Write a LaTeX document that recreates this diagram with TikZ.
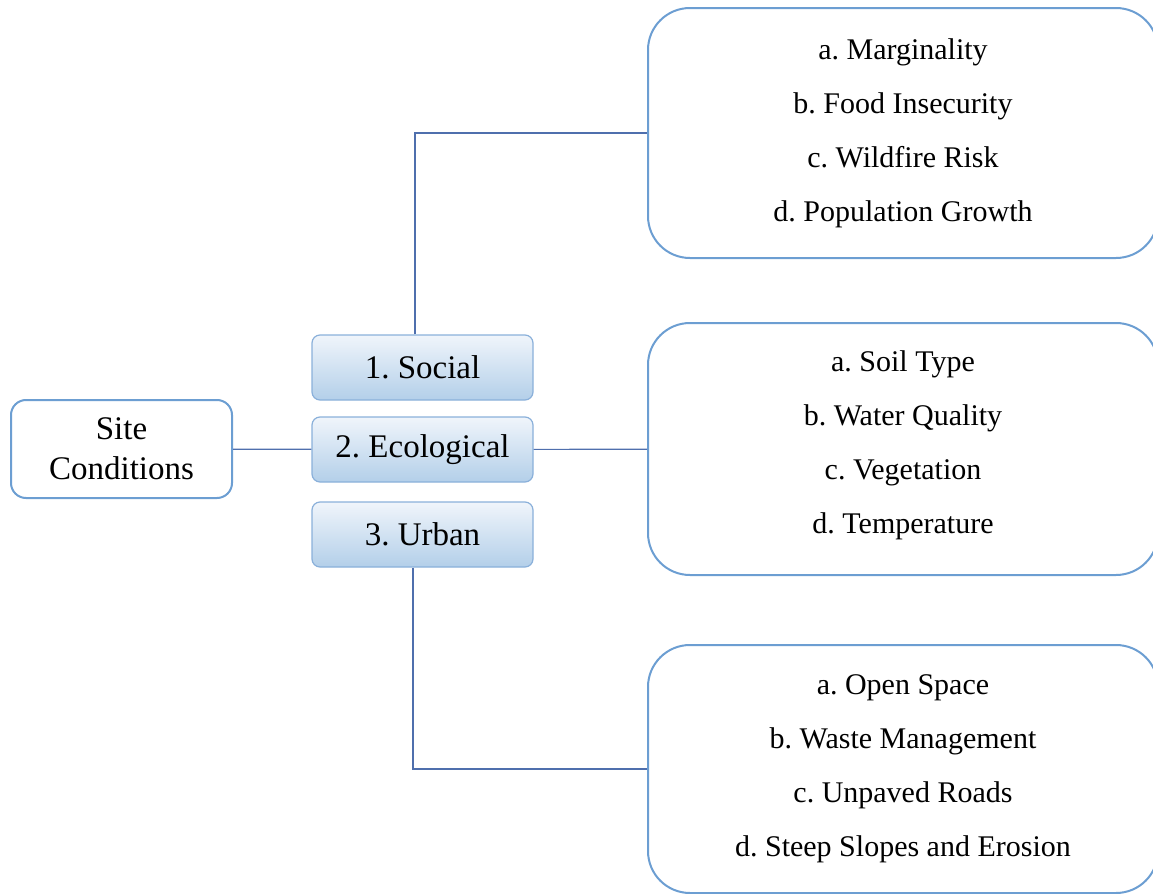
\documentclass[tikz,border=0pt]{standalone}
\usepackage{fontspec}
\setmainfont{Liberation Serif}
\frenchspacing
\definecolor{bigborder}{HTML}{6C9ED2}
\definecolor{conn}{HTML}{4F6FAD}
\definecolor{smallborder}{HTML}{8AB0DA}
\definecolor{smalltop}{HTML}{F0F5FB}
\definecolor{smallbot}{HTML}{B3CFE9}
\tikzset{
  rootbox/.style={draw=bigborder, line width=1pt, rounded corners=7.5pt, fill=white,
    minimum width=110.5pt, minimum height=49pt, inner sep=0pt, align=center,
    font=\fontsize{16.5}{20}\selectfont},
  catbox/.style={draw=smallborder, line width=0.6pt, rounded corners=4pt,
    top color=smalltop, bottom color=smallbot,
    minimum width=110.5pt, minimum height=32.5pt, inner sep=0pt,
    font=\fontsize{16.5}{20}\selectfont},
  listbox/.style={draw=bigborder, line width=1pt, rounded corners=21pt, fill=white,
    minimum width=255pt, inner sep=0pt, align=center,
    font=\fontsize{15}{27}\selectfont},
  link/.style={draw=conn, line width=0.6pt}
}
\begin{document}
\begin{tikzpicture}[x=0.5pt,y=-0.5pt]
\useasboundingbox (0,0) rectangle (1153,894);
\node[rootbox] (site) at (121.5,449) {Site\\Conditions};
\node[catbox] (social) at (422.5,367.5) {1. Social};
\node[catbox] (eco) at (422.5,449.5) {2. Ecological};
\node[catbox] (urban) at (422.5,534.5) {3. Urban};
\node[listbox, minimum height=125pt] (top) at (903,133)
  {a. Marginality\\b. Food Insecurity\\c. Wildfire Risk\\d. Population Growth};
\node[listbox, minimum height=126pt, text depth=6.8pt] (mid) at (903,449)
  {a. Soil Type\\b. Water Quality\\c. Vegetation\\d. Temperature};
\node[listbox, minimum height=124pt] (bot) at (903,769)
  {a. Open Space\\b. Waste Management\\c. Unpaved Roads\\d. Steep Slopes and Erosion};
\draw[link] (site) -- (eco);
\draw[link] (eco) -- (mid);
\draw[link] ([xshift=-3.75pt]social.north) |- (top.west);
\draw[link] ([xshift=-4.75pt]urban.south) |- (bot.west);
\end{tikzpicture}
\end{document}
